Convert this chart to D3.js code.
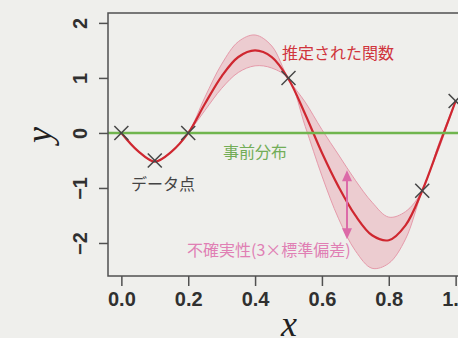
<!DOCTYPE html>
<html>
<head>
<meta charset="utf-8">
<script src="https://cdn.jsdelivr.net/npm/d3@7/dist/d3.min.js"></script>
<style>
  html, body { margin: 0; padding: 0; background: #efefec; overflow: hidden; }
  svg { display: block; }
</style>
</head>
<body>
<svg id="chart" width="458" height="338"></svg>
<script>
// Observations
const obsX = [0, 0.1, 0.2, 0.5, 0.9, 1.0];
const obsY = [0, -0.5, 0, 1.0, -1.05, 0.58];

// Posterior mean and 3-sigma spread, sampled along x
const gridX = [0, 0.05, 0.1, 0.15, 0.2, 0.25, 0.3, 0.35, 0.4, 0.45, 0.5,
               0.55, 0.6, 0.65, 0.7, 0.75, 0.8, 0.85, 0.9, 0.95, 1.0];
const meanY = [0, -0.33, -0.52, -0.34, 0, 0.53, 1.03, 1.38, 1.5, 1.38, 0.98,
               0.34, -0.36, -0.98, -1.5, -1.86, -1.95, -1.68, -1.05, -0.24, 0.58];
const spread3 = [0, 0, 0, 0, 0, 0.12, 0.22, 0.28, 0.28, 0.2, 0,
                 0.22, 0.42, 0.58, 0.64, 0.6, 0.42, 0.25, 0, 0.05, 0];

// Prior mean
const priorY = 0;

// Uncertainty arrow
const arrowX = 0.675;
const arrowY = [-0.68, -1.93];

// Axis ticks
const xTicks = [0, 0.2, 0.4, 0.6, 0.8, 1.0];
const yTicks = [-2, -1, 0, 1, 2];

const svg = d3.select("#chart");

const x = d3.scaleLinear().domain([-0.04, 1.04]).range([108, 469]);
const y = d3.scaleLinear().domain([-2.6, 2.18]).range([276, 13]);

const pts = gridX.map((gx, i) => ({ x: gx, m: meanY[i], s: spread3[i] }));
const smooth = d3.curveCatmullRom.alpha(0.5);

// Uncertainty band
const area = d3.area()
  .x(d => x(d.x))
  .y0(d => y(d.m - d.s))
  .y1(d => y(d.m + d.s))
  .curve(smooth);
svg.append("path").datum(pts)
  .attr("d", area)
  .attr("fill", "#e8a2b0")
  .attr("fill-opacity", 0.45)
  .attr("stroke", "none");

const edge = sgn => d3.line()
  .x(d => x(d.x))
  .y(d => y(d.m + sgn * d.s))
  .curve(smooth);
[1, -1].forEach(sgn => {
  svg.append("path").datum(pts)
    .attr("d", edge(sgn))
    .attr("fill", "none")
    .attr("stroke", "#e59aaa")
    .attr("stroke-width", 1);
});

// Posterior mean
svg.append("path").datum(pts)
  .attr("d", d3.line().x(d => x(d.x)).y(d => y(d.m)).curve(smooth))
  .attr("fill", "none")
  .attr("stroke", "#cf2730")
  .attr("stroke-width", 2.2);

// Prior mean line
svg.append("line")
  .attr("x1", x(-0.04)).attr("x2", x(1.04))
  .attr("y1", y(priorY)).attr("y2", y(priorY))
  .attr("stroke", "#70b54e")
  .attr("stroke-width", 2.4);

// Observation crosses
const cs = 7;
const crosses = svg.append("g")
  .attr("stroke", "#454545")
  .attr("stroke-width", 1.5);
obsX.forEach((ox, i) => {
  const cx = x(ox), cy = y(obsY[i]);
  crosses.append("line").attr("x1", cx - cs).attr("y1", cy - cs).attr("x2", cx + cs).attr("y2", cy + cs);
  crosses.append("line").attr("x1", cx - cs).attr("y1", cy + cs).attr("x2", cx + cs).attr("y2", cy - cs);
});

// Double-headed arrow for the uncertainty
const ax = x(arrowX), ay1 = y(arrowY[0]), ay2 = y(arrowY[1]);
const arrowCol = "#dc6aa8";
svg.append("line")
  .attr("x1", ax).attr("x2", ax)
  .attr("y1", ay1 + 9).attr("y2", ay2 - 9)
  .attr("stroke", arrowCol).attr("stroke-width", 2);
svg.append("path")
  .attr("d", `M${ax},${ay1} L${ax - 5},${ay1 + 11} L${ax + 5},${ay1 + 11} Z`)
  .attr("fill", arrowCol);
svg.append("path")
  .attr("d", `M${ax},${ay2} L${ax - 5},${ay2 - 11} L${ax + 5},${ay2 - 11} Z`)
  .attr("fill", arrowCol);

// Plot frame
svg.append("rect")
  .attr("x", x(-0.04)).attr("y", y(2.18))
  .attr("width", x(1.04) - x(-0.04)).attr("height", y(-2.6) - y(2.18))
  .attr("fill", "none")
  .attr("stroke", "#505050")
  .attr("stroke-width", 1.5);

// Axes
const xAxis = svg.append("g")
  .attr("transform", `translate(0,${y(-2.6)})`)
  .call(d3.axisBottom(x).tickValues(xTicks).tickFormat(d3.format(".1f")).tickSize(10).tickPadding(6));
xAxis.select(".domain").remove();
xAxis.selectAll("line").attr("stroke", "#505050").attr("stroke-width", 1.5);
xAxis.selectAll("text")
  .attr("font-family", "'Liberation Sans', Arial, sans-serif")
  .attr("font-size", 20)
  .attr("font-weight", "bold")
  .attr("fill", "#303030");

const yAxis = svg.append("g")
  .attr("transform", `translate(${x(-0.04)},0)`)
  .call(d3.axisLeft(y).tickValues(yTicks).tickFormat(d3.format("d")).tickSize(9));
yAxis.select(".domain").remove();
yAxis.selectAll("line").attr("stroke", "#505050").attr("stroke-width", 1.5);
yAxis.selectAll("text")
  .attr("font-family", "'Liberation Sans', Arial, sans-serif")
  .attr("font-size", 20)
  .attr("font-weight", "bold")
  .attr("fill", "#303030")
  .attr("text-anchor", "middle")
  .attr("dy", null)
  .attr("dominant-baseline", "central")
  .attr("x", null)
  .attr("transform", "translate(-28,0) rotate(-90)");

// Axis titles
svg.append("text")
  .attr("x", 289).attr("y", 336)
  .attr("text-anchor", "middle")
  .attr("font-family", "'Liberation Serif', 'DejaVu Serif', serif")
  .attr("font-style", "italic")
  .attr("font-size", 36)
  .attr("fill", "#202020")
  .text("x");
svg.append("text")
  .attr("transform", "translate(51,135) rotate(-90)")
  .attr("text-anchor", "middle")
  .attr("font-family", "'Liberation Serif', 'DejaVu Serif', serif")
  .attr("font-style", "italic")
  .attr("font-size", 36)
  .attr("fill", "#202020")
  .text("y");

// Annotations
const jp = "'Noto Sans CJK JP', 'Noto Sans', sans-serif";
const note = (tx, ty, anchor, color, str) =>
  svg.append("text")
    .attr("x", tx).attr("y", ty)
    .attr("text-anchor", anchor)
    .attr("dominant-baseline", "central")
    .attr("font-family", jp)
    .attr("font-size", 16)
    .attr("fill", color)
    .text(str);

note(282, 52, "start", "#d0343c", "推定された関数");
note(255, 151, "middle", "#72ad57", "事前分布");
note(131, 183, "start", "#444444", "データ点");
note(187, 249, "start", "#e07fb4", "不確実性(3×標準偏差)");
</script>
</body>
</html>
